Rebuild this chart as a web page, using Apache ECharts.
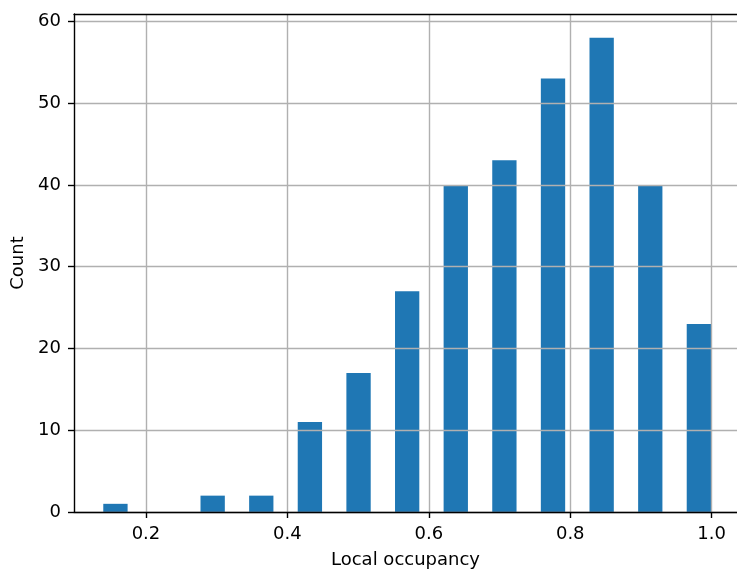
<!DOCTYPE html>
<html>
<head>
<meta charset="utf-8">
<script src="https://cdn.jsdelivr.net/npm/echarts@6/dist/echarts.min.js"></script>
<style>
  html, body { margin: 0; padding: 0; background: #fff; }
  #chart { width: 737px; height: 574px; }
</style>
</head>
<body>
<div id="chart"></div>
<script>
// histogram bins (edges) and counts
const binEdges = [0.1224, 0.1912, 0.2599, 0.3287, 0.3974, 0.4662, 0.5350,
                  0.6037, 0.6725, 0.7412, 0.8100, 0.8788, 0.9475, 1.0163];
const counts = [1, 0, 2, 2, 11, 17, 27, 40, 43, 53, 58, 40, 23];
const xTicks = [0.2, 0.4, 0.6, 0.8, 1.0];
const yTicks = [0, 10, 20, 30, 40, 50, 60];

const barData = counts.map((c, i) => [binEdges[i], binEdges[i + 1], c]);

const font = 'DejaVu Sans';
const chart = echarts.init(document.getElementById('chart'), null, { renderer: 'canvas' });

const xMin = 0.0982, xMax = 1.0358;

const option = {
  animation: false,
  grid: { left: 74, top: 14, right: 0, bottom: 61 },
  xAxis: [{
    type: 'value',
    min: xMin, max: xMax,
    z: 3,
    name: 'Local occupancy',
    nameLocation: 'middle',
    nameGap: 39,
    nameTextStyle: { fontFamily: font, fontSize: 18, color: '#000' },
    axisLine: { lineStyle: { color: '#000', width: 1.4 } },
    axisTick: { show: true, length: 6, lineStyle: { color: '#000', width: 1.4 }, customValues: xTicks },
    axisLabel: {
      fontFamily: font, fontSize: 18, color: '#000', margin: 13,
      customValues: xTicks,
      formatter: v => v.toFixed(1)
    },
    splitLine: { show: true, lineStyle: { color: '#b0b0b0', width: 1.4 } }
  }, {
    // top spine only
    type: 'value',
    position: 'top',
    min: xMin, max: xMax,
    z: 3,
    axisLine: { show: true, onZero: false, lineStyle: { color: '#000', width: 1.4 } },
    axisTick: { show: false },
    axisLabel: { show: false },
    splitLine: { show: false }
  }],
  yAxis: {
    type: 'value',
    min: 0, max: 60.9,
    z: 3,
    name: 'Count',
    nameLocation: 'middle',
    nameGap: 45,
    nameTextStyle: { fontFamily: font, fontSize: 18, color: '#000' },
    axisLine: { show: true, lineStyle: { color: '#000', width: 1.4 } },
    axisTick: { show: true, length: 6, lineStyle: { color: '#000', width: 1.4 }, customValues: yTicks },
    axisLabel: { fontFamily: font, fontSize: 18, color: '#000', margin: 13, customValues: yTicks },
    splitLine: { show: true, lineStyle: { color: '#b0b0b0', width: 1.4 } }
  },
  series: [{
    type: 'custom',
    z: 1,
    xAxisIndex: 0,
    data: barData,
    encode: { x: [0, 1], y: 2 },
    renderItem: function (params, api) {
      const l = api.value(0), r = api.value(1), h = api.value(2);
      const w = r - l;
      // rwidth = 0.5, bar centred in its bin
      const p0 = api.coord([l + 0.25 * w, h]);
      const p1 = api.coord([l + 0.75 * w, 0]);
      return {
        type: 'rect',
        shape: { x: p0[0], y: p0[1], width: p1[0] - p0[0], height: p1[1] - p0[1] },
        style: { fill: '#1f77b4' }
      };
    }
  }]
};

chart.setOption(option);
window.addEventListener('resize', () => chart.resize());
</script>
</body>
</html>
